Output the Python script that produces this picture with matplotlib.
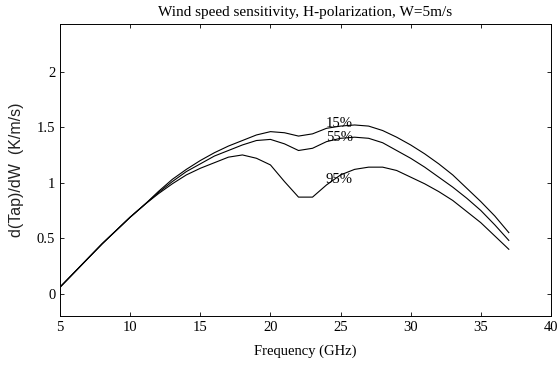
# Wind speed sensitivity curves, H-polarization
import numpy as np
import matplotlib
matplotlib.use("Agg")
import matplotlib.pyplot as plt

plt.rcParams['font.family'] = ['Liberation Serif', 'DejaVu Serif']

freq = [5, 6, 7, 8, 9, 10, 11, 12, 13, 14, 15, 16, 17, 18, 19, 20, 21,
        22, 23, 24, 25, 26, 27, 28, 29, 30, 31, 32, 33, 34, 35, 36, 37]

# shared low-frequency part (5-11 GHz)
common = [0.06, 0.19, 0.32, 0.45, 0.57, 0.69, 0.80]

hum15 = common + [0.92, 1.03, 1.12, 1.20, 1.27, 1.33, 1.38, 1.43, 1.46, 1.45,
                  1.42, 1.44, 1.49, 1.51, 1.52, 1.51, 1.47, 1.41, 1.34, 1.26,
                  1.17, 1.07, 0.95, 0.83, 0.70, 0.55]
hum55 = common + [0.91, 1.01, 1.10, 1.17, 1.24, 1.29, 1.34, 1.38, 1.39, 1.35,
                  1.29, 1.31, 1.37, 1.40, 1.41, 1.40, 1.36, 1.29, 1.22, 1.14,
                  1.05, 0.96, 0.86, 0.75, 0.62, 0.48]
hum95 = common + [0.90, 0.99, 1.07, 1.13, 1.18, 1.23, 1.25, 1.22, 1.16, 1.01,
                  0.87, 0.87, 0.98, 1.07, 1.12, 1.14, 1.14, 1.11, 1.05, 0.99,
                  0.92, 0.84, 0.74, 0.64, 0.52, 0.40]

labels = ['15%', '55%', '95%']
label_pos = [(24.9, 1.53), (24.9, 1.41), (24.9, 1.03)]

fig = plt.figure(figsize=(5.57, 3.69), dpi=100)
ax = fig.add_axes([0.108, 0.144, 0.881, 0.791])

for series in (hum15, hum55, hum95):
    ax.plot(freq, series, color='black', linewidth=0.8)

for text, (x, y) in zip(labels, label_pos):
    ax.text(x, y, text, fontsize=10.5, ha='center', va='center')

ax.set_xlim(5, 40)
ax.set_ylim(-0.2, 2.43)
ax.set_xticks(np.arange(5, 41, 5))
ax.set_yticks([0, 0.5, 1, 1.5, 2])
ax.set_yticklabels(['0', '0.5', '1', '1.5', '2'])
ax.tick_params(direction='in', top=True, right=True, length=3, width=0.6,
               labelsize=10.5)
for spine in ax.spines.values():
    spine.set_linewidth(0.7)

ax.set_title('Wind speed sensitivity, H-polarization, W=5m/s', fontsize=11, pad=6)
ax.set_xlabel('Frequency (GHz)', fontsize=10.5, labelpad=8)
ax.set_ylabel('d(Tap)/dW  (K/m/s)', fontsize=11.5, labelpad=9, color='#222222',
              family=['Liberation Sans', 'DejaVu Sans'])

fig.savefig('out.png', dpi=100)
